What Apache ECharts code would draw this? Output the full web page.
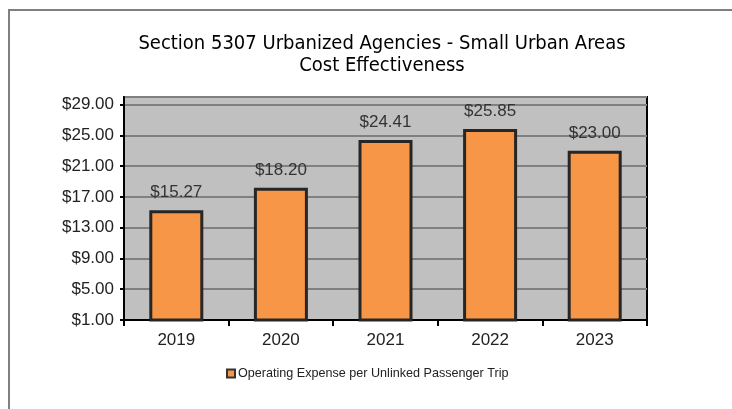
<!DOCTYPE html>
<html>
<head>
<meta charset="utf-8">
<script src="https://cdn.jsdelivr.net/npm/echarts@6/dist/echarts.min.js"></script>
<style>
  html, body { margin: 0; padding: 0; background: #fff; }
  #chart { width: 732px; height: 409px; }
</style>
</head>
<body>
<div id="chart"></div>
<script>
const years = ['2019', '2020', '2021', '2022', '2023'];
const costPerTrip = [15.27, 18.20, 24.41, 25.85, 23.00];
const seriesName = 'Operating Expense per Unlinked Passenger Trip';
const yMin = 1;
const yMax = 30;
const yStep = 4;

const chart = echarts.init(document.getElementById('chart'));
const money = v => '$' + v.toFixed(2);
const labelFont = "'Liberation Sans', Arial, sans-serif";

chart.setOption({
  animation: false,
  title: {
    text: 'Section 5307 Urbanized Agencies - Small Urban Areas\nCost Effectiveness',
    left: 377,
    top: 28,
    textAlign: 'center',
    textStyle: {
      fontFamily: "'DejaVu Sans Condensed', sans-serif",
      fontSize: 20,
      fontWeight: 'normal',
      color: '#000',
      lineHeight: 22
    }
  },
  graphic: [{
    type: 'rect',
    shape: { x: 9, y: 10, width: 760, height: 420 },
    style: { fill: 'none', stroke: '#808080', lineWidth: 2 },
    silent: true
  }],
  legend: {
    data: [seriesName],
    left: 221,
    top: 362,
    icon: 'rect',
    itemWidth: 8,
    itemHeight: 8,
    itemGap: 4,
    itemStyle: { borderColor: '#333', borderWidth: 2 },
    textStyle: { fontFamily: labelFont, fontSize: 12.6, color: '#222', padding: [0, 0, 0, -2] }
  },
  grid: {
    left: 124,
    right: 85,
    top: 97,
    bottom: 89,
    show: true,
    backgroundColor: '#c0c0c0',
    borderColor: '#000',
    borderWidth: 2
  },
  xAxis: {
    type: 'category',
    data: years,
    axisLine: { lineStyle: { color: '#000', width: 2 } },
    axisTick: { show: true, length: 6, lineStyle: { color: '#000', width: 2 } },
    axisLabel: { fontFamily: labelFont, fontSize: 17, color: '#222', margin: 12 }
  },
  yAxis: {
    type: 'value',
    min: yMin,
    max: yMax,
    interval: yStep,
    axisLine: { show: true, lineStyle: { color: '#000', width: 2 } },
    axisTick: { show: true, length: 4, lineStyle: { color: '#000', width: 2 } },
    axisLabel: {
      fontFamily: labelFont,
      fontSize: 17,
      color: '#222',
      margin: 10,
      showMaxLabel: false,
      formatter: v => ((v - yMin) % yStep === 0 ? money(v) : '')
    },
    splitLine: { lineStyle: { color: '#808080', width: 2 } }
  },
  series: [{
    name: seriesName,
    type: 'bar',
    data: costPerTrip,
    barWidth: 54,
    itemStyle: { color: '#f79646', borderColor: '#262626', borderWidth: 3 },
    label: {
      show: true,
      position: 'top',
      distance: 9,
      formatter: p => money(p.value),
      fontFamily: labelFont,
      fontSize: 17,
      color: '#333'
    }
  }]
});
</script>
</body>
</html>
